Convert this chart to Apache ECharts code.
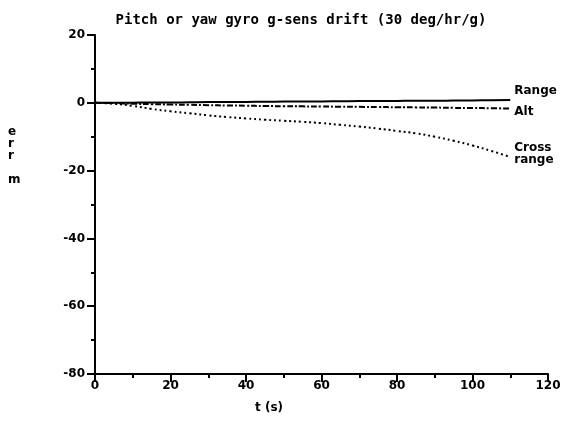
<!DOCTYPE html>
<html><head><meta charset="utf-8">
<script src="https://cdn.jsdelivr.net/npm/echarts@6/dist/echarts.min.js"></script>
<style>html,body{margin:0;padding:0;background:#fff}#c{width:564px;height:439px}</style>
</head><body><div id="c"></div>
<script>
const titleText = 'Pitch or yaw gyro g-sens drift (30 deg/hr/g)';
const xName = 't (s)';
const yNameLetters = ['e','r','r','','m'];
const tValues = [0,5,10,15,20,25,30,35,40,45,50,55,60,65,70,75,80,85,90,95,100,105,110];
const rangeErr = [0,0,0.05,0.1,0.1,0.15,0.2,0.2,0.25,0.3,0.35,0.4,0.4,0.45,0.5,0.5,0.55,0.6,0.6,0.65,0.7,0.75,0.8];
const altErr = [0,-0.1,-0.25,-0.4,-0.5,-0.6,-0.7,-0.8,-0.85,-0.95,-1.0,-1.05,-1.1,-1.15,-1.2,-1.25,-1.3,-1.35,-1.4,-1.5,-1.55,-1.6,-1.7];
const crossErr = [0,-0.3,-0.9,-1.8,-2.5,-3.1,-3.7,-4.2,-4.6,-5.0,-5.3,-5.6,-6.0,-6.5,-7.0,-7.6,-8.3,-9.0,-10.0,-11.2,-12.6,-14.2,-16.0];
const xTicks = {min:0, max:120, interval:20};
const yTicks = {min:-80, max:20, interval:20};

const font = 'DejaVu Sans';
const pair = arr => tValues.map((t,i)=>[t,arr[i]]);
const chart = echarts.init(document.getElementById('c'), null, {renderer:'canvas'});
const axisCommon = {
  axisLine:{show:true, onZero:false, lineStyle:{color:'#000', width:2}},
  axisTick:{show:true, inside:false, length:8, lineStyle:{color:'#000', width:2}},
  minorTick:{show:true, splitNumber:2, length:4, lineStyle:{color:'#000', width:2}},
  splitLine:{show:false},
  axisLabel:{color:'#000', fontFamily:font, fontWeight:'bold', fontSize:12}
};
chart.setOption({
  animation:false,
  backgroundColor:'#fff',
  title:{text:titleText, left:296, top:8, textAlign:'center',
    textStyle:{fontFamily:'DejaVu Sans Mono', fontWeight:'bold', fontSize:14, color:'#000'}},
  grid:{left:95, right:16, top:35, bottom:65},
  xAxis:Object.assign({type:'value', min:xTicks.min, max:xTicks.max, interval:xTicks.interval}, axisCommon,
    {axisLabel:Object.assign({}, axisCommon.axisLabel, {margin:6})}),
  yAxis:Object.assign({type:'value', min:yTicks.min, max:yTicks.max, interval:yTicks.interval}, axisCommon,
    {axisLabel:Object.assign({}, axisCommon.axisLabel, {margin:10})}),
  graphic:[
    {type:'text', left:255, top:402, style:{text:xName, fontFamily:font, fontWeight:'bold', fontSize:12, fill:'#000'}},
    {type:'text', left:8, top:126, style:{text:yNameLetters.join('\n'), lineHeight:12, fontFamily:font, fontWeight:'bold', fontSize:12, fill:'#000'}}
  ],
  series:[
    {type:'line', name:'Range', data:pair(rangeErr), showSymbol:false, smooth:true,
      lineStyle:{color:'#000', width:2, type:'solid'},
      endLabel:{show:true, formatter:'Range', distance:4, offset:[0,-9], color:'#000', fontFamily:font, fontWeight:'bold', fontSize:12}},
    {type:'line', name:'Alt', data:pair(altErr), showSymbol:false, smooth:true,
      lineStyle:{color:'#000', width:2, type:[6,2,2,2]},
      endLabel:{show:true, formatter:'Alt', distance:4, offset:[0,3], color:'#000', fontFamily:font, fontWeight:'bold', fontSize:12}},
    {type:'line', name:'Cross range', data:pair(crossErr), showSymbol:false, smooth:true,
      lineStyle:{color:'#000', width:2, type:[2,3]},
      endLabel:{show:true, formatter:'Cross\nrange', distance:4, lineHeight:12, offset:[0,-3], color:'#000', fontFamily:font, fontWeight:'bold', fontSize:12}}
  ]
});
</script></body></html>
